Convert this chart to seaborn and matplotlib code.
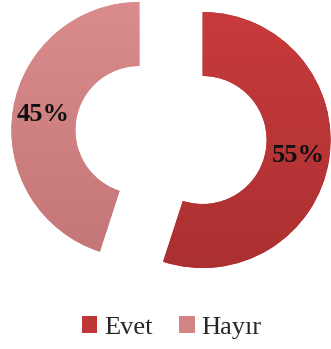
import matplotlib
matplotlib.use("Agg")
import matplotlib.pyplot as plt
from matplotlib.colors import LinearSegmentedColormap
import numpy as np
import seaborn as sns

labels = ["Evet", "Hayır"]
values = [55, 45]
colors = ["#BE3637", "#D38585"]
# light (top) -> dark (bottom) shading per slice
shades = [("#CB3C3D", "#A92F30"), ("#DC8E8E", "#C27474")]

sns.set_theme(style="white")
plt.rcParams["font.family"] = ["Liberation Serif", "DejaVu Serif"]

fig = plt.figure(figsize=(3.31, 3.49), dpi=100)
ax = fig.add_axes([0, 0, 1, 1])

wedges, texts, autotexts = ax.pie(
    values,
    colors=colors,
    startangle=90,
    counterclock=False,
    explode=[0.25, 0.25],
    radius=1.0,
    wedgeprops=dict(width=0.5, edgecolor="none"),
    autopct="%d%%",
    pctdistance=0.76,
    textprops=dict(fontsize=19, fontweight="bold", color="#111111"),
)

# vertical gradient inside each slice
grad = np.linspace(0, 1, 256).reshape(-1, 1)
for w, (top, bottom) in zip(wedges, shades):
    cmap = LinearSegmentedColormap.from_list("shade", [top, bottom])
    im = ax.imshow(grad, cmap=cmap, extent=(-1.4, 1.4, -1.2, 1.2),
                   aspect="auto", zorder=w.get_zorder() + 0.1)
    im.set_clip_path(w)
for t in autotexts:
    t.set_zorder(5)

ax.set_xlim(-171 / 128, 160 / 128)
ax.set_ylim(-214 / 128, 135 / 128)
ax.set_aspect("equal")
ax.axis("off")

fig.legend(
    wedges, labels,
    loc="center", bbox_to_anchor=(0.518, 0.062),
    ncol=2, frameon=False, fontsize=19,
    handlelength=0.6, handleheight=0.6,
    handletextpad=0.25, columnspacing=1.0,
)

fig.savefig("out.png", dpi=100, facecolor="white")
plt.close(fig)
